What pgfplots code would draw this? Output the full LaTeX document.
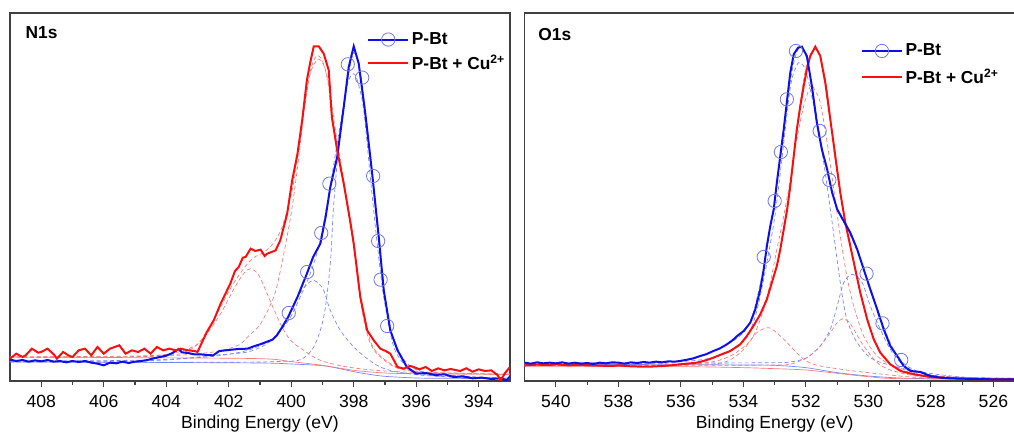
\documentclass[border=0pt]{standalone}
\usepackage{pgfplots}
\pgfplotsset{compat=1.18}
\usepackage{fontspec}
\setmainfont{Liberation Sans}
\definecolor{cblue}{RGB}{15,15,235}
\definecolor{cred}{RGB}{250,15,15}
\definecolor{mblue}{RGB}{110,120,235}
\definecolor{dblue}{RGB}{120,130,240}
\definecolor{dred}{RGB}{245,120,120}
\pgfplotsset{
  xps/.style={
    scale only axis, width=375pt, height=276pt, anchor=south west,
    x dir=reverse, ymin=0, ymax=1104,
    axis line style={black!75, line width=0.8pt},
    ytick=\empty, xtick pos=left,
    tick align=outside, major tick length=4.5pt, minor tick length=3pt,
    minor x tick num=1,
    every tick/.style={black!75, line width=0.8pt},
    ticklabel style={font=\fontsize{13.2}{15}\selectfont, yshift=-2.6pt},
    /pgf/number format/assume math mode=true,
    xlabel={Binding Energy (eV)},
    xlabel style={font=\fontsize{13.2}{15}\selectfont, yshift=0.6pt},
    legend cell align=left,
    legend image code/.code={\draw[mark repeat=2,mark phase=2,##1] plot coordinates {(0pt,0pt) (15pt,0pt) (30pt,0pt)};},
  },
  comp/.style={line width=0.5pt, densely dashed, smooth, forget plot},
  base/.style={line width=0.5pt, smooth, forget plot},
}
\begin{document}
\begin{tikzpicture}
\useasboundingbox (0pt,0pt) rectangle (760.5pt,324pt);
% ---------------- N1s ----------------
\begin{axis}[xps, at={(7.5pt,38.25pt)}, xmin=393, xmax=409, xtick={394,396,...,408},
  legend style={draw=none, fill=none, at={(0.706,0.962)}, anchor=north west, row sep=2.2pt,
    font=\fontsize{13}{15}\selectfont\bfseries}]
\addlegendimage{cblue, line width=1.5pt, mark=o, mark size=5pt, mark options={mblue, line width=0.6pt, solid}}
\addlegendimage{cred, line width=1.5pt}
\legend{P-Bt, P-Bt + Cu\textsuperscript{2+}}
% baselines
\addplot[base, dblue] coordinates {(409,57)(405,56)(401,54)(400,51)(399,46)(398.5,38)(398,28)(397.5,20)(397,14)(396,9)(395,8)(393,7)};
\addplot[base, dred] coordinates {(409,72)(405,70)(401,67)(400,58)(399,47)(398,32)(397,24)(396,22)(393,20)};
% blue components
\addplot[comp, dblue] coordinates {(409,57)(403,56)(401,57)(400.3,59)(399.7,64)(399.28,102)(398.96,192)(398.75,352)(398.64,532)(398.43,752)(398.2,890)(398.0,922)(397.85,890)(397.68,812)(397.47,612)(397.25,412)(397.04,252)(396.72,102)(396.3,42)(395.86,22)(395,12)(393,8)};
\addplot[comp, dblue] coordinates {(409,58)(406,59)(404,63)(402.5,77)(401.4,87)(400.77,112)(400.46,142)(400.13,182)(399.8,252)(399.5,290)(399.28,302)(399.1,290)(398.96,272)(398.75,212)(398.43,152)(398.0,102)(397.57,67)(397.15,42)(396.6,27)(395.5,15)(393,8)};
\addplot[comp, dblue] coordinates {(409,60)(405,62)(403,70)(402,80)(401.4,92)(401,106)(400.6,126)(400.3,155)(400,195)(399.7,255)(399.4,320)(399.1,410)(398.8,560)(398.5,730)(398.2,900)(398.0,985)(397.8,930)(397.6,790)(397.4,610)(397.2,420)(397.0,260)(396.8,150)(396.5,80)(396.2,45)(395.8,28)(395,18)(394,12)(393,9)};
% red components
\addplot[comp, dred] coordinates {(409,70)(406,72)(404,75)(402.5,87)(401.7,107)(401.4,132)(400.98,172)(400.56,252)(400.35,330)(400.02,492)(399.8,640)(399.6,800)(399.4,920)(399.15,965)(398.95,945)(398.8,880)(398.7,790)(398.5,680)(398.3,580)(398.1,460)(398.0,400)(397.8,250)(397.6,150)(397.4,100)(397.15,72)(396.7,42)(396.2,30)(395.5,25)(394,22)(393,20)};
\addplot[comp, dred] coordinates {(409,72)(406,72)(405,73)(404,78)(403.54,82)(403.1,102)(402.7,142)(402.26,202)(401.8,282)(401.5,325)(401.3,337)(401.1,325)(400.98,307)(400.77,262)(400.35,172)(400.02,122)(399.6,92)(399.07,62)(398.2,42)(397,30)(395,22)(393,20)};
\addplot[comp, dred] coordinates {(409,72)(405,75)(404,80)(403.5,90)(403,110)(402.7,150)(402.3,215)(401.9,285)(401.5,340)(401.2,370)(400.9,385)(400.6,410)(400.3,460)(400,560)(399.8,665)(399.6,810)(399.4,925)(399.2,975)(399.0,960)(398.8,890)(398.6,760)(398.4,650)(398.2,530)(398.0,410)(397.8,260)(397.6,160)(397.4,105)(397.15,75)(396.7,45)(396.2,32)(395.5,26)(394,22)(393,20)};
% data
\addplot[cblue, line width=1.5pt, forget plot] coordinates {(409,64)(408.8,60)(408.6,63)(408.4,58)(408.2,62)(408,59)(407.8,63)(407.6,58)(407.4,60)(407.2,56)(407,60)(406.8,57)(406.6,60)(406.4,55)(406.2,52)(406,47)(405.8,55)(405.6,53)(405.4,58)(405.2,54)(405,58)(404.8,60)(404.6,63)(404.4,68)(404.2,72)(404,76)(403.8,84)(403.6,96)(403.5,86)(403.3,84)(403.1,80)(402.9,80)(402.7,78)(402.5,77)(402.3,90)(402.1,92)(401.9,94)(401.7,96)(401.4,97)(401.2,104)(401,110)(400.8,117)(400.6,124)(400.46,137)(400.3,160)(400.1,192)(399.8,252)(399.5,322)(399.3,372)(399.07,412)(398.9,492)(398.75,582)(398.53,672)(398.32,822)(398.16,942)(398.0,1004)(397.84,952)(397.63,802)(397.41,622)(397.2,432)(397.04,272)(396.83,152)(396.6,92)(396.3,42)(396,22)(395.7,24)(395.4,18)(395.1,20)(394.8,12)(394.5,14)(394.2,8)(393.9,10)(393.6,6)(393.3,8)(393.1,2)(393,14)};
\addplot[cred, line width=1.5pt, forget plot] coordinates {(409,67)(408.8,82)(408.6,72)(408.5,77)(408.3,97)(408.1,85)(408,87)(407.8,97)(407.6,80)(407.5,67)(407.3,87)(407.1,75)(407,72)(406.8,92)(406.6,97)(406.4,77)(406.2,102)(406,82)(405.8,97)(405.5,107)(405.3,82)(405.1,92)(404.9,87)(404.7,97)(404.5,82)(404.3,102)(404.1,92)(403.9,97)(403.7,92)(403.54,97)(403.3,92)(403.1,90)(403.0,87)(402.85,117)(402.7,147)(402.48,182)(402.26,232)(401.95,292)(401.8,330)(401.68,342)(401.55,370)(401.46,372)(401.3,397)(401.15,390)(400.98,394)(400.85,375)(400.77,382)(400.6,388)(400.5,392)(400.35,422)(400.13,502)(399.97,602)(399.8,682)(399.65,782)(399.5,902)(399.4,952)(399.28,1004)(399.12,1004)(398.96,982)(398.8,932)(398.7,792)(398.53,692)(398.32,592)(398.1,472)(398.0,412)(397.79,252)(397.57,152)(397.36,122)(397.15,97)(396.98,90)(396.83,82)(396.6,42)(396.4,37)(396.2,45)(396.08,42)(395.9,35)(395.7,42)(395.5,30)(395.3,38)(395.1,32)(394.9,36)(394.6,30)(394.4,38)(394.2,28)(394,35)(393.8,30)(393.6,32)(393.4,18)(393.3,2)(393.15,25)(393,42)};
\addplot[only marks, mark=o, mark size=5pt, mblue, line width=0.6pt, forget plot] coordinates {(398.19,950)(397.73,910)(397.38,615)(398.78,592)(397.22,420)(399.04,444)(397.14,304)(399.49,327)(400.08,204)(396.93,165)};
\node[anchor=west, font=\fontsize{13}{15}\selectfont\bfseries] at (rel axis cs:0.022,0.948) {N1s};
\end{axis}
% ---------------- O1s ----------------
\begin{axis}[xps, at={(393.5pt,38.25pt)}, xmin=525, xmax=541, xtick={526,528,...,540},
  legend style={draw=none, fill=none, at={(0.664,0.931)}, anchor=north west, row sep=4.5pt,
    font=\fontsize{13}{15}\selectfont\bfseries}]
\addlegendimage{cblue, line width=1.5pt, mark=o, mark size=5pt, mark options={mblue, line width=0.6pt, solid}}
\addlegendimage{cred, line width=1.5pt}
\legend{P-Bt, P-Bt + Cu\textsuperscript{2+}}
\addplot[base, dblue] coordinates {(541,50)(536,49)(534,48)(533,47)(532,40)(531,25)(530,15)(529,9)(528,7)(525,5)};
\addplot[base, dred] coordinates {(541,44)(536,43)(534,40)(533,37)(532,33)(531,23)(530,13)(529,7)(525,5)};
\addplot[comp, dblue] coordinates {(541,52)(537,55)(535.5,62)(534.8,75)(534.3,95)(533.9,130)(533.6,200)(533.3,330)(533.0,490)(532.8,640)(532.5,880)(532.3,945)(532.18,955)(532.0,930)(531.75,825)(531.43,655)(531.16,475)(530.9,295)(530.69,185)(530.36,115)(529.94,70)(529.4,50)(528.5,30)(527,12)(525,8)};
\addplot[comp, dblue] coordinates {(541,52)(535,54)(533,55)(532.5,57)(531.97,70)(531.54,105)(531.22,155)(531.0,225)(530.79,295)(530.52,320)(530.2,295)(529.94,225)(529.62,155)(529.3,95)(528.97,55)(528.55,30)(528,18)(527,10)(525,8)};
\addplot[comp, dblue] coordinates {(541,54)(537,56)(536,60)(535.5,70)(535,88)(534.5,110)(534,145)(533.7,200)(533.4,320)(533.1,480)(532.8,690)(532.5,900)(532.3,985)(532.15,1000)(532.0,975)(531.8,880)(531.55,730)(531.3,620)(531.0,515)(530.7,460)(530.4,400)(530.1,320)(529.8,240)(529.5,160)(529.2,95)(528.9,55)(528.5,32)(528,18)(527,10)(525,8)};
\addplot[comp, dred] coordinates {(541,46)(537,47)(535.5,50)(534.64,55)(534.1,85)(533.68,135)(533.35,215)(533.14,295)(532.93,395)(532.71,495)(532.5,605)(532.29,725)(532.07,825)(531.85,885)(531.7,870)(531.54,835)(531.32,715)(531.11,575)(530.9,435)(530.69,315)(530.47,225)(530.15,135)(529.72,75)(529.19,45)(528.5,25)(528,15)(525,5)};
\addplot[comp, dred] coordinates {(541,47)(537,48)(535.17,55)(534.42,75)(533.89,110)(533.57,145)(533.19,160)(532.82,135)(532.5,105)(532.07,65)(531.54,45)(530,25)(528,8)(525,5)};
\addplot[comp, dred] coordinates {(541,47)(535,47)(533,48)(532.5,50)(531.97,70)(531.54,105)(531.22,145)(531.0,175)(530.81,187)(530.6,175)(530.47,155)(530.15,105)(529.72,55)(529.19,30)(528,10)(525,5)};
\addplot[comp, dred] coordinates {(541,47)(537,46)(536,50)(535.5,55)(535,68)(534.5,88)(534,120)(533.7,160)(533.4,215)(533.1,290)(532.8,400)(532.5,580)(532.2,820)(532.0,940)(531.8,990)(531.65,995)(531.5,960)(531.3,860)(531.1,690)(530.9,560)(530.7,460)(530.5,370)(530.3,280)(530.0,175)(529.7,100)(529.4,60)(529,35)(528.5,22)(528,13)(527,7)(525,5)};
\addplot[cred, line width=1.5pt, forget plot] coordinates {(541,47)(540.6,49)(540.2,48)(540,50)(539.6,47)(539.2,48)(539,48)(538.6,46)(538.2,45)(538,47)(537.6,44)(537.2,43)(537,43)(536.6,45)(536.3,47)(536.03,50)(535.8,52)(535.49,55)(535.2,62)(534.96,70)(534.7,80)(534.42,90)(534.1,110)(533.89,135)(533.68,165)(533.46,200)(533.25,245)(533.09,295)(532.93,345)(532.82,395)(532.71,455)(532.6,515)(532.5,585)(532.39,675)(532.29,755)(532.18,825)(532.07,885)(531.97,935)(531.86,975)(531.7,1003)(531.54,975)(531.38,895)(531.22,785)(531.06,675)(530.9,565)(530.74,475)(530.58,405)(530.42,335)(530.26,265)(530.04,185)(529.83,125)(529.62,85)(529.3,50)(528.97,30)(528.55,20)(528,12)(527,7)(526,5)(525,5)};
\addplot[cblue, line width=1.5pt, forget plot] coordinates {(541,55)(540.8,52)(540.6,56)(540.4,53)(540.2,55)(540,53)(539.8,56)(539.6,52)(539.4,55)(539.2,52)(539,54)(538.8,51)(538.6,55)(538.4,53)(538.2,56)(538,55)(537.8,52)(537.6,56)(537.4,54)(537.2,57)(537,55)(536.8,58)(536.6,56)(536.4,59)(536.2,58)(536.03,60)(535.8,64)(535.6,68)(535.38,75)(535.2,80)(534.96,90)(534.75,98)(534.53,110)(534.35,122)(534.2,135)(533.99,150)(533.78,175)(533.62,215)(533.46,275)(533.35,335)(533.25,405)(533.14,465)(533.03,515)(532.93,595)(532.82,675)(532.71,755)(532.6,845)(532.5,925)(532.39,980)(532.25,1000)(532.13,1003)(531.97,975)(531.81,885)(531.65,775)(531.49,695)(531.32,635)(531.16,565)(531.0,515)(530.79,480)(530.58,445)(530.36,395)(530.15,335)(529.94,275)(529.72,215)(529.51,155)(529.3,105)(529.08,75)(528.87,45)(528.65,30)(528.33,27)(528.1,18)(528,15)(527.7,10)(527.4,8)(527,7)(526.6,6)(526,5)(525.5,5)(525,5)};
\addplot[only marks, mark=o, mark size=5pt, mblue, line width=0.6pt, forget plot] coordinates {(532.32,990)(532.61,845)(532.80,687)(533.0,540)(533.35,372)(531.56,750)(531.25,603)(530.06,322)(529.55,173)(528.95,63)};
\node[anchor=west, font=\fontsize{13}{15}\selectfont\bfseries] at (rel axis cs:0.018,0.941) {O1s};
\end{axis}
\end{tikzpicture}
\end{document}
